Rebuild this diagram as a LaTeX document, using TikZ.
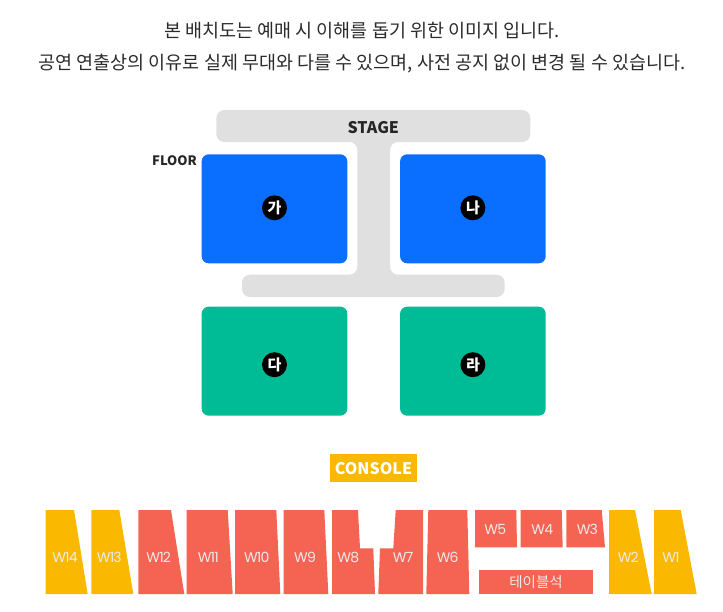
\documentclass[tikz,border=0pt]{standalone}
\usepackage{fontspec}
\setmainfont{Noto Sans CJK KR}
\newfontfamily\seatfont[LetterSpace=-6]{Poppins}
\usetikzlibrary{positioning}
\definecolor{floorblue}{HTML}{0A6EFF}
\definecolor{floorgreen}{HTML}{00BC96}
\definecolor{seatred}{HTML}{F56352}
\definecolor{seatyellow}{HTML}{FBB800}
\definecolor{stagegrey}{HTML}{E0E0E0}
\definecolor{noticegrey}{HTML}{2B2B2B}
\tikzset{
  notice/.style = {noticegrey, font=\fontsize{18.5pt}{20pt}\selectfont, inner sep=0},
  heading/.style = {black!85!white, font=\fontsize{16pt}{18pt}\selectfont\bfseries, inner sep=0},
  block/.style = {rounded corners=7pt, minimum width=145.6pt, minimum height=109pt, inner sep=0},
  blue block/.style = {block, fill=floorblue},
  green block/.style = {block, fill=floorgreen},
  badge/.style = {circle, fill=black, text=white, minimum size=25pt, inner sep=0,
                  font=\fontsize{15pt}{17pt}\selectfont\bfseries},
  seat label/.style = {white!92!black, inner sep=0, font=\fontsize{14pt}{16pt}\seatfont},
}
\begin{document}
\begin{tikzpicture}[x=1pt, y=1pt]
  \useasboundingbox (0, 0) rectangle (723, -611);

  % Notice on top
  \node (notice0) [notice] at (362, -31) {본 배치도는 예매 시 이해를 돕기 위한 이미지 입니다.};
  \node (notice1) [notice, below=14pt of notice0] {공연 연출상의 이유로 실제 무대와 다를 수 있으며, 사전 공지 없이 변경 될 수 있습니다.};

  % Stage with its runway and cross bar
  \fill [stagegrey, rounded corners=8pt]
    (216.3, -110) -- (530.3, -110) -- (530.3, -142) -- (390, -142) -- (390, -274.7)
    -- (504.7, -274.7) -- (504.7, -297) -- (242, -297) -- (242, -274.7)
    -- (357.3, -274.7) -- (357.3, -142) -- (216.3, -142) -- cycle;
  \node (stage) [heading] at (373.3, -127.5) {STAGE};

  % Floor blocks
  \node (floor0) [blue block] at (274.5, -208.8) {};
  \node (floor1) [blue block, right=52.4pt of floor0] {};
  \node (floor2) [green block, below=43pt of floor0] {};
  \node (floor3) [green block, below=43pt of floor1] {};
  \foreach \c/\t/\s in {0/가/1, 1/나/1, 2/다/-3.5, 3/라/-3.5}{
    \node (badge\c) [badge, yshift=\s pt] at (floor\c) {\t};
  }
  \node (floor) [heading, font=\fontsize{13pt}{15pt}\selectfont\bfseries] at (174.5, -161) {FLOOR};

  % Console
  \node (console) [fill=seatyellow, text=white, minimum width=86.4pt, minimum height=28.3pt, inner sep=0,
    font=\fontsize{16pt}{18pt}\selectfont\bfseries] at (373.5, -468.2) {CONSOLE};

  % Slanted seats along the back wall
  \foreach \n/\a/\b/\c/\col/\lx in {
    14/45.7/74/87.7/seatyellow/65, 13/91.3/119.3/133.3/seatyellow/109.3,
    12/138.3/171/184.3/seatred/158.7, 11/186.7/227.7/232.7/seatred/208.3,
    10/235/276.3/280.3/seatred/256.7, 9/283.7/324.3/328.3/seatred/305,
    2/609/635/651.7/seatyellow/628.3, 1/654/680.7/696.7/seatyellow/671}{
    \fill [\col] (\a, -510) -- (\b, -510) -- (\c, -594) -- (\a, -594) -- cycle;
    \node (w\n) [seat label] at (\lx, -557.5) {W\n};
  }

  % W8, W7 and W6 are cut around the console
  \fill [seatred] (332, -510) -- (358, -510) -- (360, -548.3) -- (373.3, -548.3)
    -- (375, -594) -- (332, -594) -- cycle;
  \node (w8) [seat label] at (348.3, -557.5) {W8};
  \fill [seatred] (395.7, -510) -- (423, -510) -- (423, -594) -- (378.3, -594)
    -- (380, -548.3) -- (393.3, -548.3) -- cycle;
  \node (w7) [seat label] at (403, -557.5) {W7};
  \fill [seatred] (428.3, -510) -- (467.3, -510) -- (469.3, -594) -- (426.3, -594) -- cycle;
  \node (w6) [seat label] at (447.7, -557.5) {W6};

  % Short seats in front of the table
  \foreach \n/\a/\b/\c/\lx in {5/475/516.3/517/495.3, 4/520.7/561.7/562.7/542.3, 3/566.3/601.7/605/587.3}{
    \fill [seatred] (\a, -510) -- (\b, -510) -- (\c, -547.3) -- (\a, -547.3) -- cycle;
    \node (w\n) [seat label] at (\lx, -529.3) {W\n};
  }
  \node (table) [fill=seatred, text=white!92!black, minimum width=114.6pt, minimum height=24pt, inner sep=0,
    font=\fontsize{14.5pt}{16pt}\selectfont] at (536, -582) {테이블석};
\end{tikzpicture}
\end{document}
